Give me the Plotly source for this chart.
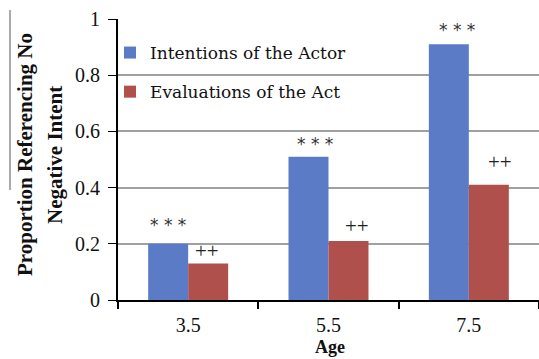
import plotly.graph_objects as go

ages = ["3.5", "5.5", "7.5"]
intentions = [0.20, 0.51, 0.91]
evaluations = [0.13, 0.21, 0.41]
intent_marks = ["***", "***", "***"]
eval_marks = ["++", "++", "++"]
y_ticks = [0, 0.2, 0.4, 0.6, 0.8, 1]
y_tick_text = ["0", "0.2", "0.4", "0.6", "0.8", "1"]

# label offsets (pixels, style only)
intent_dx, intent_dy = [-20, -14, -12], [19, 13, 14]
eval_dx, eval_dy = [19, 28, 31], [12, 15, 23]

FONT = "Liberation Serif"
L, T, B, W, H = 118, 19, 59, 539, 359
PW, PH = W - L, H - T - B

fig = go.Figure()
fig.add_trace(go.Bar(x=ages, y=intentions, name="Intentions of the Actor",
                     legendgroup="a",
                     marker=dict(color="#5b7bc6", line=dict(width=0))))
fig.add_trace(go.Bar(x=ages, y=evaluations, name="Evaluations of the Act",
                     legendgroup="b",
                     marker=dict(color="#b0504d", line=dict(width=0))))

for i, (v, m) in enumerate(zip(intentions, intent_marks)):
    fig.add_annotation(x=i, y=v, text=" ".join(m), showarrow=False,
                       xshift=intent_dx[i], yshift=intent_dy[i],
                       yanchor="middle", font=dict(family="DejaVu Sans", size=17, color="#333"))
for i, (v, m) in enumerate(zip(evaluations, eval_marks)):
    fig.add_annotation(x=i, y=v, text=m, showarrow=False,
                       xshift=eval_dx[i], yshift=eval_dy[i],
                       yanchor="middle", font=dict(family=FONT, size=21, color="#222"))

# axis titles
fig.add_annotation(xref="paper", yref="paper", x=(25 - L) / PW, y=(300 - 155) / PH,
                   text="<b>Proportion Referencing No</b>", textangle=-90, showarrow=False,
                   xanchor="center", yanchor="middle", font=dict(family=FONT, size=21, color="#111"))
fig.add_annotation(xref="paper", yref="paper", x=(55 - L) / PW, y=(300 - 155) / PH,
                   text="<b>Negative Intent</b>", textangle=-90, showarrow=False,
                   xanchor="center", yanchor="middle", font=dict(family=FONT, size=21, color="#111"))
fig.add_annotation(xref="paper", yref="paper", x=(330 - L) / PW, y=(300 - 347) / PH,
                   text="<b>Age</b>", showarrow=False,
                   xanchor="center", yanchor="middle", font=dict(family=FONT, size=18, color="#111"))

fig.update_layout(
    width=W, height=H,
    margin=dict(l=L, r=0, t=T, b=B),
    paper_bgcolor="white", plot_bgcolor="white",
    barmode="group", bargap=0.43, bargroupgap=0,
    font=dict(family=FONT, size=18, color="#111"),
    showlegend=True,
    legend=dict(x=(110 - L) / PW, y=(300 - 35) / PH, xanchor="left", yanchor="top",
                bgcolor="rgba(0,0,0,0)", font=dict(family="DejaVu Serif", size=17, color="#111"),
                tracegroupgap=14, itemsizing="constant"),
    xaxis=dict(type="category", range=[-0.5, 2.5], tickson="boundaries",
               ticks="outside", ticklen=7, automargin=False, ticklabelstandoff=6,
               tickcolor="black", tickwidth=1.5, showline=True, linecolor="black",
               linewidth=1.5, showgrid=False,
               tickfont=dict(family=FONT, size=20)),
    yaxis=dict(range=[0, 1], tickvals=y_ticks, ticktext=y_tick_text, automargin=False,
               ticks="outside", ticklen=8, tickcolor="black", showline=True,
               linecolor="black", linewidth=2, gridcolor="#a0a0a0", gridwidth=1.5,
               zeroline=False, ticklabelstandoff=4,
               tickfont=dict(family=FONT, size=20)),
)

fig.add_shape(type="line", xref="paper", yref="paper", x0=(10 - L) / PW, x1=(10 - L) / PW,
              y0=(300 - 190) / PH, y1=(300 - 10) / PH, line=dict(color="#555", width=1))

fig.write_html("out.html", config={"displayModeBar": False},
               post_script="document.body.style.margin='0';document.body.style.overflow='hidden';")
